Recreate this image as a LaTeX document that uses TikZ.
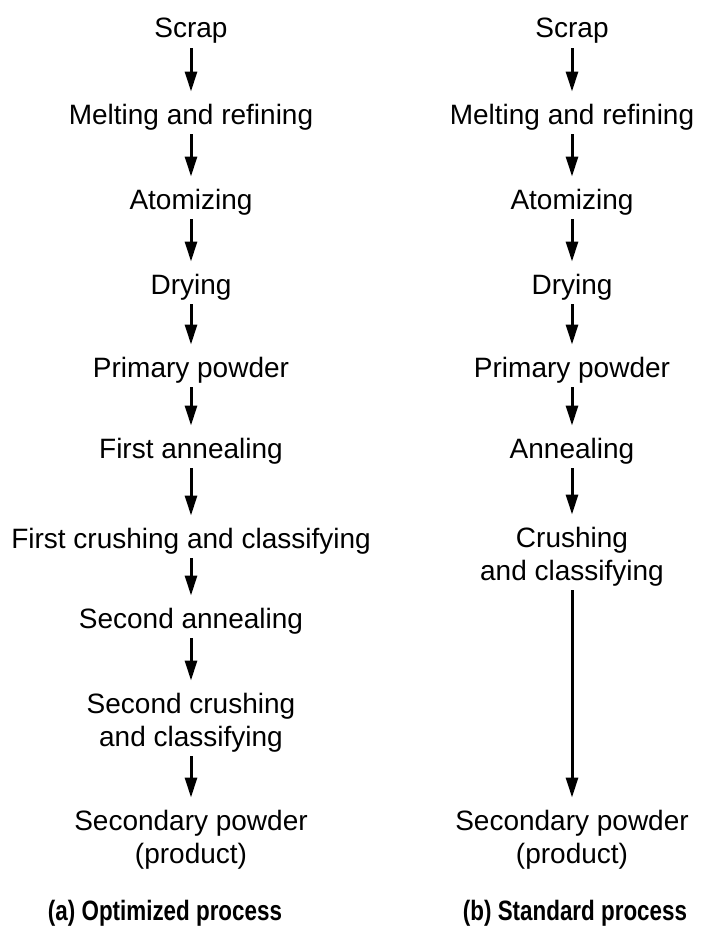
\documentclass[tikz,border=0pt]{standalone}
\usepackage{fontspec}
\setmainfont{Liberation Sans}
\usepackage{graphicx}
\usetikzlibrary{arrows.meta}
\begin{document}
\begin{tikzpicture}[x=1pt,y=1pt,
  lbl/.style={anchor=base,inner sep=0pt,align=center,font=\fontsize{28}{33}\selectfont},
  captxt/.style={anchor=base,inner sep=0pt,font=\fontsize{28}{33}\selectfont\bfseries},
  arr/.style={line width=3pt,-{Triangle[length=20pt,width=12pt]},shorten <=4pt,shorten >=12pt}]
\useasboundingbox (0,0) rectangle (707,-934);
% left column
\node[lbl] (a1) at (191,-38) {Scrap};
\node[lbl] (a2) at (191,-124) {Melting and refining};
\node[lbl] (a3) at (191,-209) {Atomizing};
\node[lbl] (a4) at (191,-294) {Drying};
\node[lbl] (a5) at (191,-377) {Primary powder};
\node[lbl] (a6) at (191,-458) {First annealing};
\node[lbl] (a7) at (191,-548) {First crushing and classifying};
\node[lbl] (a8) at (191,-628) {Second annealing};
\node[lbl] (a9) at (191,-746) {Second crushing\\and classifying};
\node[lbl] (a10) at (191,-863) {Secondary powder\\(product)};
% right column
\node[lbl] (b1) at (572,-38) {Scrap};
\node[lbl] (b2) at (572,-124) {Melting and refining};
\node[lbl] (b3) at (572,-209) {Atomizing};
\node[lbl] (b4) at (572,-294) {Drying};
\node[lbl] (b5) at (572,-377) {Primary powder};
\node[lbl] (b6) at (572,-458) {Annealing};
\node[lbl] (b7) at (572,-580) {Crushing\\and classifying};
\node[lbl] (b8) at (572,-863) {Secondary powder\\(product)};
% captions
\node[captxt] (ca) at (165,-920) {\scalebox{0.8}[1]{(a) Optimized process}};
\node[captxt] (cb) at (575,-920) {\scalebox{0.8}[1]{(b) Standard process}};
% arrows
\foreach \i/\j in {1/2,2/3,3/4,4/5,5/6,6/7,7/8,8/9,9/10}{
  \draw[arr] (a\i.south) -- (a\j.north);
}
\foreach \i/\j in {1/2,2/3,3/4,4/5,5/6,6/7,7/8}{
  \draw[arr] (b\i.south) -- (b\j.north);
}
\end{tikzpicture}
\end{document}
